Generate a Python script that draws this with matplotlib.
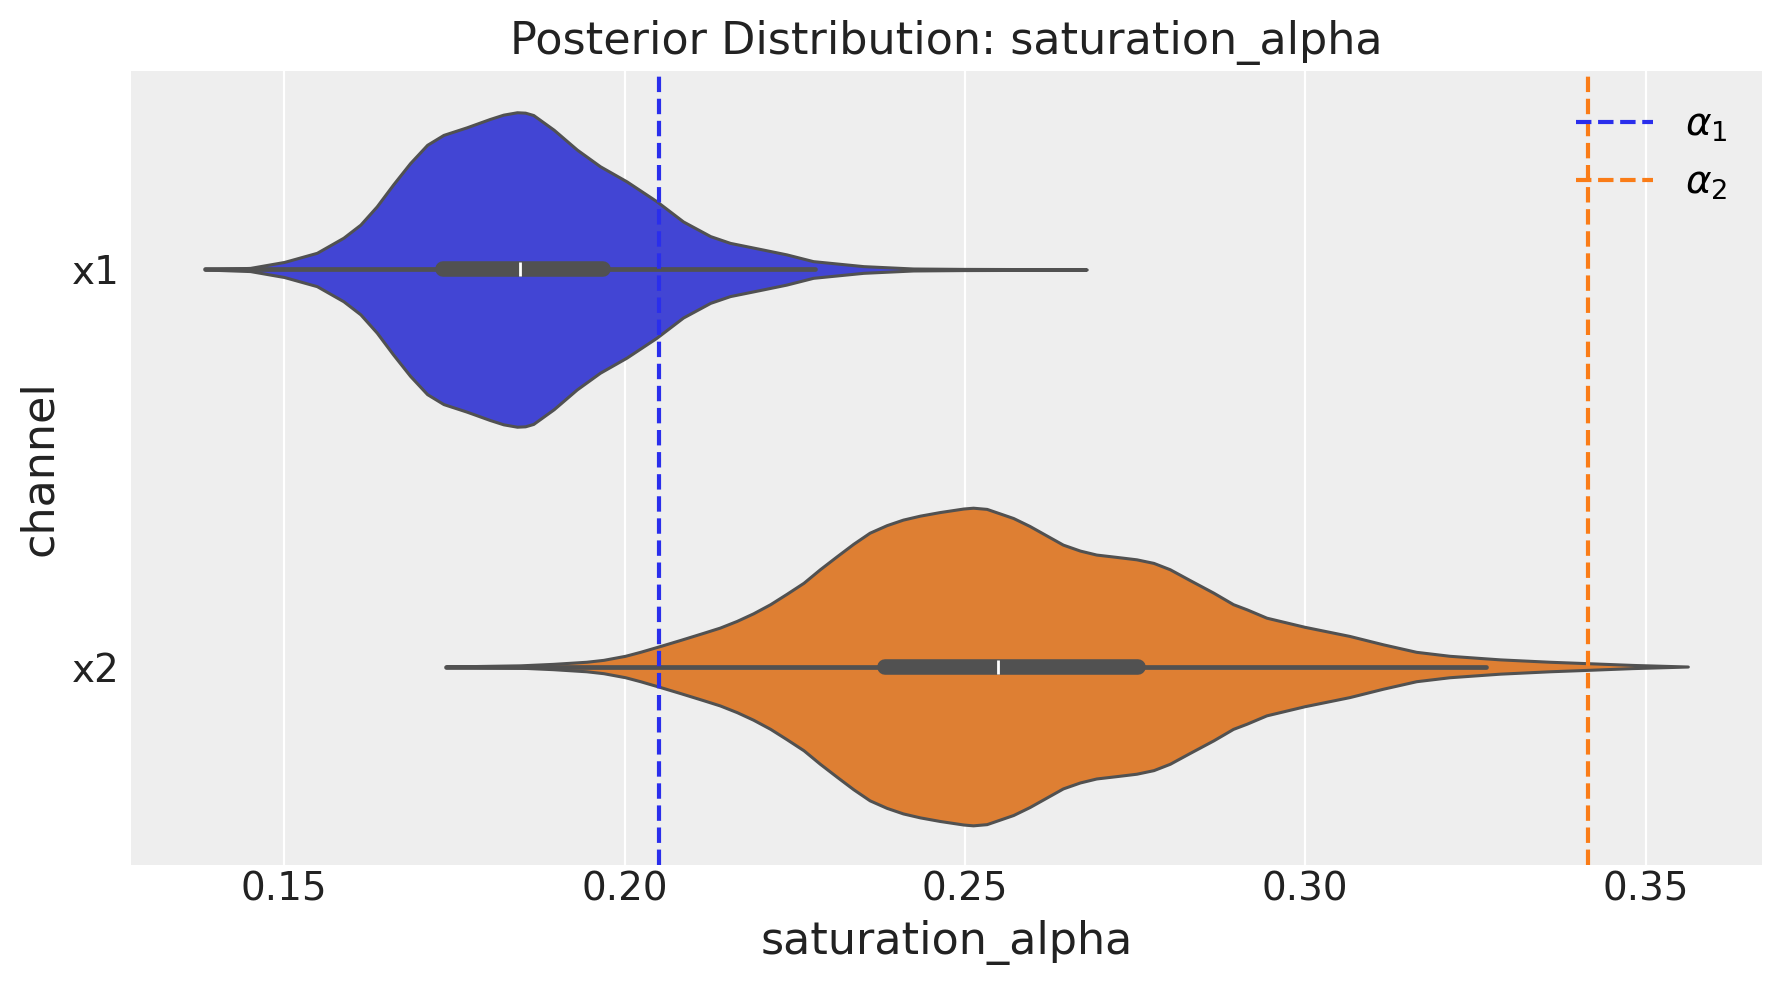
import colorsys
import matplotlib
matplotlib.use("Agg")
import matplotlib.pyplot as plt
import matplotlib.colors as mcolors

channels = ["x1", "x2"]
true_alpha = [0.205, 0.3416]
alpha_labels = [r"$\alpha_1$", r"$\alpha_2$"]

# violin outlines: x value and half width (category units)
x1_grid = [0.1384, 0.1450, 0.1500, 0.1548, 0.1587, 0.1612, 0.1636, 0.1660, 0.1685,
           0.1710, 0.1734, 0.1768, 0.1802, 0.1822, 0.1842, 0.1854, 0.1866, 0.1896,
           0.1930, 0.1964, 0.2003, 0.2047, 0.2086, 0.2126, 0.2155, 0.2204, 0.2238,
           0.2277, 0.2351, 0.2424, 0.2497, 0.2600, 0.2679]
x1_half = [0.0, 0.004, 0.019, 0.042, 0.080, 0.113, 0.159, 0.214, 0.268,
           0.314, 0.339, 0.358, 0.379, 0.390, 0.396, 0.395, 0.389, 0.352,
           0.302, 0.260, 0.222, 0.172, 0.121, 0.084, 0.067, 0.050, 0.038,
           0.021, 0.0084, 0.0025, 0.0015, 0.001, 0.0]

x2_grid = [0.1738, 0.1798, 0.1847, 0.1895, 0.1944, 0.1969, 0.2001, 0.2023, 0.2049,
           0.2082, 0.2116, 0.2140, 0.2165, 0.2189, 0.2214, 0.2238, 0.2263, 0.2287,
           0.2312, 0.2336, 0.2360, 0.2385, 0.2409, 0.2434, 0.2463, 0.2498, 0.2512,
           0.2532, 0.2571, 0.2595, 0.2620, 0.2644, 0.2669, 0.2693, 0.2723, 0.2752,
           0.2777, 0.2801, 0.2830, 0.2865, 0.2894, 0.2914, 0.2943, 0.2999, 0.3065,
           0.3114, 0.3163, 0.3212, 0.3286, 0.3359, 0.3415, 0.3481, 0.3562]
x2_half = [0.0, 0.0017, 0.003, 0.0067, 0.012, 0.0168, 0.027, 0.037, 0.050,
           0.067, 0.085, 0.098, 0.115, 0.134, 0.157, 0.183, 0.211, 0.245,
           0.278, 0.309, 0.337, 0.356, 0.370, 0.380, 0.389, 0.398, 0.400,
           0.397, 0.374, 0.354, 0.330, 0.307, 0.292, 0.282, 0.276, 0.270,
           0.261, 0.245, 0.218, 0.186, 0.157, 0.144, 0.123, 0.100, 0.077,
           0.056, 0.037, 0.027, 0.018, 0.012, 0.0084, 0.004, 0.0]

# inner box stats
whisk_lo = [0.1384, 0.1738]
box_q1 = [0.1733, 0.2383]
box_med = [0.1846, 0.2548]
box_q3 = [0.1969, 0.2754]
whisk_hi = [0.2280, 0.3266]

line_colors = ["#2a2eec", "#fa7c17"]
gray = "#515151"


def desat(c, prop=0.75):
    r, g, b = mcolors.to_rgb(c)
    h, l, s = colorsys.rgb_to_hls(r, g, b)
    return colorsys.hls_to_rgb(h, l, s * prop)


plt.rcParams["font.family"] = "DejaVu Sans"
fig = plt.figure(figsize=(8.91, 4.915), dpi=200)
ax = fig.add_axes([0.0735, 0.12, 0.9153, 0.8078])
ax.set_facecolor("#eeeeee")
for s in ax.spines.values():
    s.set_visible(False)
ax.grid(True, axis="x", color="white", lw=0.8)
ax.set_axisbelow(True)

grids = [x1_grid, x2_grid]
halves = [x1_half, x2_half]
for i, ch in enumerate(channels):
    xs = grids[i]
    lo = [i - h for h in halves[i]]
    hi = [i + h for h in halves[i]]
    poly = ax.fill_between(xs, lo, hi, facecolor=desat(line_colors[i]),
                           edgecolor=gray, lw=1.1, zorder=2)
    poly.set_joinstyle("round")
    ax.plot([whisk_lo[i], whisk_hi[i]], [i, i], color=gray, lw=1.7,
            solid_capstyle="round", zorder=3)
    ax.plot([box_q1[i], box_q3[i]], [i, i], color=gray, lw=5.6,
            solid_capstyle="round", zorder=3)
    ax.plot([box_med[i]], [i], marker="|", color="white", ms=4.7, mew=1.0,
            zorder=4)

for a, c, lab in zip(true_alpha, line_colors, alpha_labels):
    ax.axvline(a, color=c, ls="--", lw=1.5, label=lab, zorder=3)

ax.set_xlim(0.1275, 0.3671)
ax.set_ylim(1.5, -0.5)
ax.set_yticks(range(len(channels)))
ax.set_yticklabels(channels)
ax.set_xticks([0.15, 0.20, 0.25, 0.30, 0.35])
ax.set_xticklabels(["0.15", "0.20", "0.25", "0.30", "0.35"])
ax.tick_params(axis="both", length=0, labelsize=14, colors="#222222")
ax.tick_params(axis="x", pad=2)
ax.tick_params(axis="y", pad=4)
ax.set_xlabel("saturation_alpha", fontsize=16, color="#222222")
ax.set_ylabel("channel", fontsize=16, color="#222222")
ax.set_title("Posterior Distribution: saturation_alpha", fontsize=16, color="#222222")
ax.legend(loc="upper right", frameon=False, fontsize=14)

fig.savefig("out.png", dpi=200)
